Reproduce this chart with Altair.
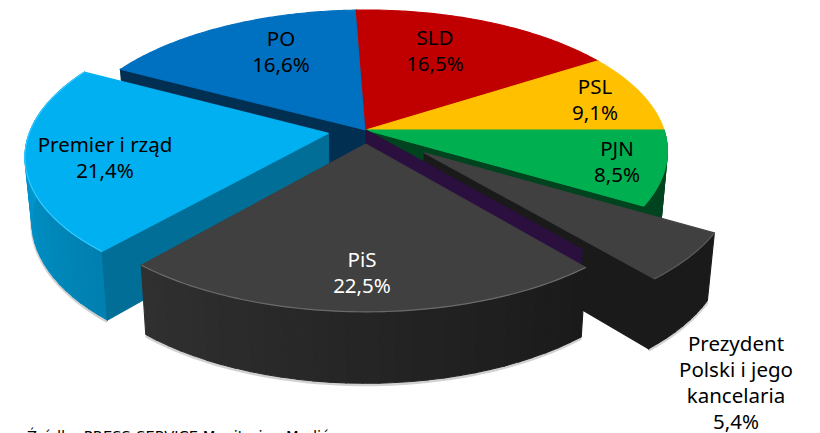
import numpy as np
import pandas as pd
import altair as alt

# ---- data
names = ["SLD", "PSL", "PJN", "Prezydent Polski i jego kancelaria", "PiS", "Premier i rząd", "PO"]
shares = [16.5, 9.1, 8.5, 5.4, 22.5, 21.4, 16.6]
share_labels = ["16,5%", "9,1%", "8,5%", "5,4%", "22,5%", "21,4%", "16,6%"]
label_lines = ["SLD", "PSL", "PJN", "Prezydent\nPolski i jego\nkancelaria", "PiS", "Premier i rząd", "PO"]
explode = [0, 0, 0, 0.25, 0.10, 0.128, 0]
top_colors = ["#C00000", "#FFC000", "#00B050", "#404040", "#404040", "#00B0F0", "#0070C0"]
source_note = "Źródło: PRESS-SERVICE Monitoring Mediów"

# ---- view geometry (a tilted disc seen in perspective)
CX, CY, R, H, K, DEPTH, SHRINK = 366.0, 130.0, 298.0, 138.0, 0.15, 64.0, 0.02
first_angle = -2.16  # SLD starts just left of the top
ends = np.cumsum(shares) / sum(shares) * 360 + first_angle
starts = np.r_[first_angle, ends[:-1]]


def project(u, v, z=0.0):
    s = 1.0 / (1.0 - K * v) * (1 - SHRINK * z)
    return CX + R * u * s, CY + (H * v + DEPTH * z) * s


def slice_frame(i):
    mid = np.radians((starts[i] + ends[i]) / 2)
    return explode[i] * np.sin(mid), -explode[i] * np.cos(mid)


def rim(i, a0, a1, n, z=0.0):
    ou, ov = slice_frame(i)
    a = np.radians(np.linspace(a0, a1, n))
    return project(ou + np.sin(a), ov - np.cos(a), z)


def apex(i, z=0.0):
    ou, ov = slice_frame(i)
    return project(ou, ov, z)


polys = []


def add_poly(xs, ys, color):
    xs, ys = list(xs), list(ys)
    xs.append(xs[0])
    ys.append(ys[0])
    pid = len(polys)
    polys.extend({"poly": pid, "n": j, "x": x, "y": y, "color": color} for j, (x, y) in enumerate(zip(xs, ys)))


def add_top(i):
    x, y = rim(i, starts[i], ends[i], 90)
    ax, ay = apex(i)
    add_poly(np.r_[ax, x], np.r_[ay, y], top_colors[i])


def add_radial(i, angle, color):
    xt, yt = rim(i, angle, angle, 1)
    xb, yb = rim(i, angle, angle, 1, 1.0)
    ax, ay = apex(i)
    bx, by = apex(i, 1.0)
    add_poly([ax, xt[0], xb[0], bx], [ay, yt[0], yb[0], by], color)


def lerp_hex(c0, c1, t):
    a = [int(c0[k:k + 2], 16) for k in (1, 3, 5)]
    b = [int(c1[k:k + 2], 16) for k in (1, 3, 5)]
    return "#" + "".join(f"{round(p + (q - p) * t):02x}" for p, q in zip(a, b))


def add_rim_wall(i, c0, c1, n=30):
    xt, yt = rim(i, starts[i], ends[i], n + 1)
    xb, yb = rim(i, starts[i], ends[i], n + 1, 1.0)
    for j in range(n):
        add_poly([xt[j], xt[j + 1], xb[j + 1], xb[j]], [yt[j], yt[j + 1], yb[j + 1], yb[j]],
                 lerp_hex(c0, c1, j / max(n - 1, 1)))


SLD, PSL, PJN, PREZ, PIS, PREM, PO = range(7)
GREEN_DARK, BLACK, NAVY, PURPLE, TEAL = "#00441F", "#1A1A1A", "#002F52", "#2B103F", "#006E96"

# back to front
add_radial(PO, starts[PO], NAVY)
add_top(PO)
add_top(SLD)
add_top(PSL)
add_rim_wall(PJN, GREEN_DARK, GREEN_DARK, n=12)
add_radial(PJN, ends[PJN], GREEN_DARK)
add_top(PJN)
add_rim_wall(PREZ, BLACK, BLACK, n=8)
add_radial(PREZ, ends[PREZ], BLACK)
add_top(PREZ)
add_radial(PJN, ends[PREZ], PURPLE)  # wall left standing in the undisturbed disc
add_rim_wall(PREM, "#0080B0", "#00A4E0")
add_radial(PREM, starts[PREM], TEAL)
add_top(PREM)
add_rim_wall(PIS, BLACK, "#303030")
add_top(PIS)
df = pd.DataFrame(polys)

# soft shadow under the lower edges, and bevel highlights on the rims
shadow = []
for i in (PREM, PIS, PREZ):
    x, y = rim(i, starts[i], ends[i], 60, 1.0)
    for j, (a, b) in enumerate(zip(x, y)):
        shadow.append({"edge": f"s{i}", "n": j, "x": a, "y": b + 1.5})
shadow_df = pd.DataFrame(shadow)

edges = []
for i, col in ((PREM, "#35C8FF"), (PIS, "#6A6A6A"), (PREZ, "#5A5A5A")):
    x, y = rim(i, starts[i], ends[i], 60)
    for j, (a, b) in enumerate(zip(x, y)):
        edges.append({"edge": f"e{i}", "n": j, "x": a, "y": b, "color": col})
edge_df = pd.DataFrame(edges)

# text placed by eye: y is the centre of the first line
label_xy = {SLD: (435, 39), PSL: (595, 88), PJN: (617, 150), PREZ: (736, 345),
            PIS: (362, 261), PREM: (105, 146), PO: (281, 40)}
label_df = pd.DataFrame([
    {"x": label_xy[i][0], "y": label_xy[i][1], "t": f"{label_lines[i]}\n{share_labels[i]}",
     "c": "#FFFFFF" if i == PIS else "#000000"}
    for i in label_xy
])
note_df = pd.DataFrame([{"x": 27, "y": 440.7, "t": source_note}])

x_enc = alt.X("x:Q", axis=None, scale=alt.Scale(domain=[8, 812], nice=False, zero=False))
y_enc = alt.Y("y:Q", axis=None, scale=alt.Scale(domain=[433, 8], nice=False, zero=False))

shadow_layer = alt.Chart(shadow_df).mark_line(stroke="#000000", strokeOpacity=0.18, strokeWidth=3).encode(
    x=x_enc, y=y_enc, detail="edge:N", order="n:Q")
poly_layer = alt.Chart(df).mark_line(strokeWidth=1.1).encode(
    x=x_enc, y=y_enc, detail="poly:N", order="n:Q",
    fill=alt.Fill("color:N", scale=None), stroke=alt.Stroke("color:N", scale=None))
edge_layer = alt.Chart(edge_df).mark_line(strokeWidth=1.2).encode(
    x=x_enc, y=y_enc, detail="edge:N", order="n:Q", stroke=alt.Stroke("color:N", scale=None))
label_layer = alt.Chart(label_df).mark_text(
    font="Noto Sans", fontSize=20.5, lineBreak="\n", lineHeight=26, align="center", baseline="middle").encode(
    x=x_enc, y=y_enc, text="t:N", color=alt.Color("c:N", scale=None))
note_layer = alt.Chart(note_df).mark_text(
    font="DejaVu Sans", fontSize=14.7, align="left", baseline="alphabetic", color="#000000").encode(
    x=x_enc, y=y_enc, text="t:N")

chart = alt.layer(shadow_layer, poly_layer, edge_layer, label_layer, note_layer).properties(
    width=804, height=425, padding=0, autosize=alt.AutoSizeParams(type="none"),
    background="#FFFFFF").configure_view(stroke=None)
chart.save("out.html", embed_options={"renderer": "svg", "actions": False})
